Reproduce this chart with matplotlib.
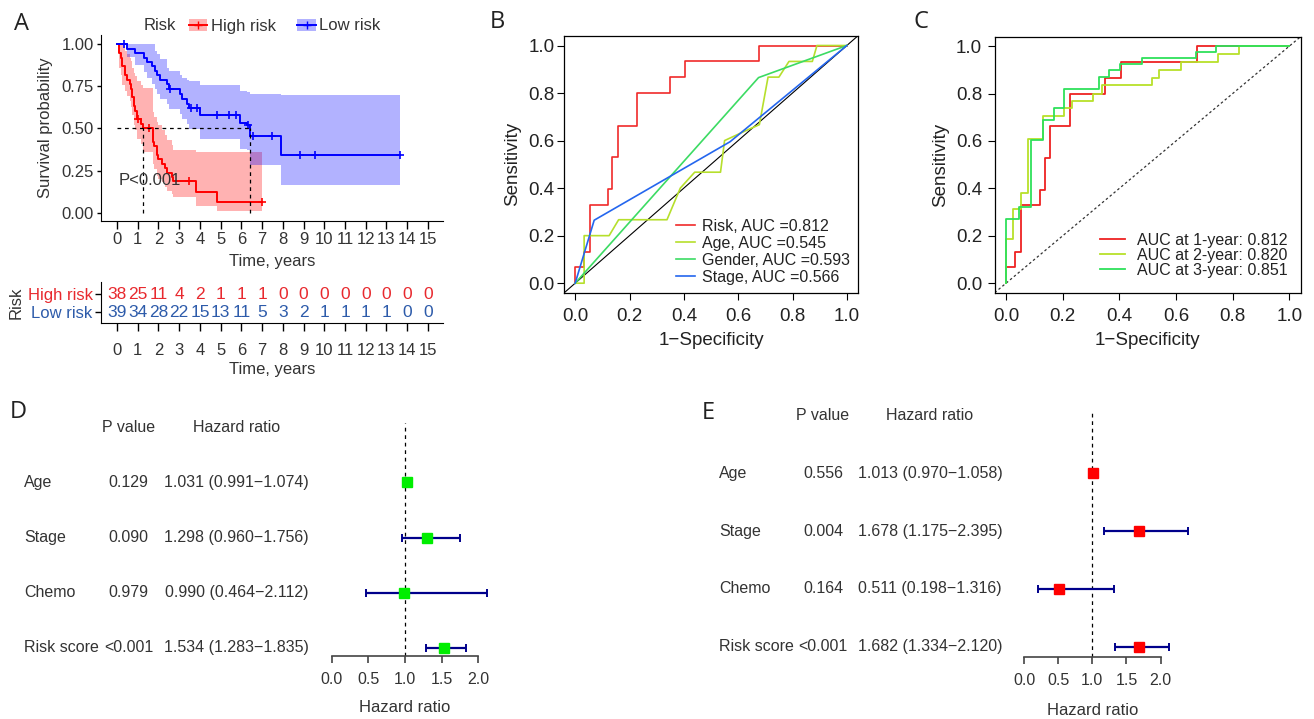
import numpy as np
import matplotlib
matplotlib.use("Agg")
import matplotlib.pyplot as plt
from matplotlib.lines import Line2D
from matplotlib.patches import Patch
from matplotlib.ticker import FormatStrFormatter
from matplotlib.transforms import blended_transform_factory

plt.rcParams["font.family"] = ["Liberation Sans", "DejaVu Sans"]

# ---- A: Kaplan-Meier (step times, survival, 95% CI) ----
red_t = [0, 0.12, 0.2, 0.25, 0.39, 0.5, 0.62, 0.66, 0.71, 0.8, 0.88, 0.95, 1.14, 1.24,
         1.72, 1.8, 1.91, 1.99, 2.15, 2.32, 2.4, 2.64, 2.72, 3.81, 4.81]
red_s = [1.0, 0.947, 0.921, 0.868, 0.816, 0.789, 0.763, 0.737, 0.684, 0.632, 0.605, 0.553,
         0.526, 0.50, 0.421, 0.395, 0.342, 0.316, 0.29, 0.263, 0.237, 0.21, 0.186, 0.124, 0.062]
red_lo = [1.0, 0.86, 0.82, 0.76, 0.72, 0.69, 0.66, 0.63, 0.58, 0.52, 0.49, 0.44, 0.41, 0.36,
          0.29, 0.26, 0.22, 0.20, 0.18, 0.15, 0.13, 0.11, 0.09, 0.04, 0.01]
red_hi = [1.0, 1.0, 1.0, 1.0, 0.96, 0.94, 0.92, 0.90, 0.86, 0.83, 0.81, 0.78, 0.76, 0.74,
          0.60, 0.57, 0.54, 0.52, 0.49, 0.46, 0.43, 0.40, 0.37, 0.36, 0.36]
red_end = 6.98
red_censor = [1.0, 1.56, 3.47, 6.98]

blue_t = [0, 0.48, 0.88, 1.29, 1.45, 1.69, 1.85, 1.95, 2.06, 2.41, 2.49, 3.05, 3.14, 3.38,
          3.46, 3.99, 5.92, 6.27, 6.40, 7.93]
blue_s = [1.0, 0.974, 0.947, 0.921, 0.895, 0.868, 0.842, 0.815, 0.789, 0.762, 0.735, 0.706,
          0.676, 0.648, 0.62, 0.578, 0.530, 0.52, 0.455, 0.341]
blue_lo = [1.0, 0.925, 0.875, 0.835, 0.80, 0.765, 0.735, 0.705, 0.675, 0.645, 0.615, 0.585,
           0.555, 0.525, 0.495, 0.44, 0.38, 0.37, 0.28, 0.165]
blue_hi = [1.0, 1.0, 1.0, 1.0, 1.0, 1.0, 0.96, 0.94, 0.91, 0.86, 0.84, 0.82, 0.80, 0.79,
           0.78, 0.76, 0.72, 0.715, 0.705, 0.70]
blue_end = 13.67
blue_censor = [0.35, 2.57, 3.55, 3.85, 4.82, 5.4, 5.76, 6.3, 6.56, 7.48, 8.84, 9.57, 13.67]

time_ticks = list(range(16))
high_at_risk = [38, 25, 11, 4, 2, 1, 1, 1, 0, 0, 0, 0, 0, 0, 0, 0]
low_at_risk = [39, 34, 28, 22, 15, 13, 11, 5, 3, 2, 1, 1, 1, 1, 0, 0]

# ---- B: ROC of risk score vs clinical variables ----
risk_fpr = [0, 0.033, 0.053, 0.12, 0.137, 0.157, 0.227, 0.35, 0.405, 0.675, 1.0]
risk_tpr = [0, 0.067, 0.133, 0.33, 0.395, 0.53, 0.663, 0.80, 0.867, 0.933, 1.0]
age_fpr = [0, 0.033, 0.033, 0.125, 0.16, 0.338, 0.387, 0.44, 0.535, 0.55, 0.625, 0.678,
           0.71, 0.75, 0.787, 0.873, 0.89, 1.0]
age_tpr = [0, 0, 0.2, 0.2, 0.267, 0.267, 0.4, 0.467, 0.467, 0.6, 0.64, 0.667,
           0.867, 0.867, 0.933, 0.933, 1.0, 1.0]
gender_fpr = [0, 0.675, 1.0]
gender_tpr = [0, 0.865, 1.0]
stage_fpr = [0, 0.07, 0.57, 1.0]
stage_tpr = [0, 0.265, 0.595, 1.0]
roc_labels = ["Risk, AUC =0.812", "Age, AUC =0.545", "Gender, AUC =0.593", "Stage, AUC =0.566"]

# ---- C: time-dependent ROC ----
y1_fpr = risk_fpr
y1_tpr = risk_tpr
y2_fpr = [0, 0.026, 0.052, 0.079, 0.129, 0.206, 0.232, 0.308, 0.338, 0.514, 0.541, 0.618,
          0.749, 0.824, 1.0]
y2_tpr = [0, 0.186, 0.314, 0.38, 0.61, 0.707, 0.74, 0.77, 0.80, 0.835, 0.867, 0.90,
          0.933, 0.967, 1.0]
y3_fpr = [0, 0.047, 0.087, 0.129, 0.169, 0.206, 0.328, 0.364, 0.402, 0.479, 0.669, 0.741, 1.0]
y3_tpr = [0, 0.273, 0.322, 0.606, 0.687, 0.74, 0.82, 0.872, 0.898, 0.925, 0.95, 0.975, 1.0]
time_labels = ["AUC at 1-year: 0.812", "AUC at 2-year: 0.820", "AUC at 3-year: 0.851"]

# ---- D/E: univariate and multivariate Cox ----
factors = ["Age", "Stage", "Chemo", "Risk score"]
uni_p = ["0.129", "0.090", "0.979", "<0.001"]
uni_hr = [1.031, 1.298, 0.990, 1.534]
uni_lo = [0.991, 0.960, 0.464, 1.283]
uni_hi = [1.074, 1.756, 2.112, 1.835]
multi_p = ["0.556", "0.004", "0.164", "<0.001"]
multi_hr = [1.013, 1.678, 0.511, 1.682]
multi_lo = [0.970, 1.175, 0.198, 1.334]
multi_hi = [1.058, 2.395, 1.316, 2.120]
hr_ticks = [0, 0.5, 1.0, 1.5, 2.0]

RED, BLUE = "#FF0000", "#0000FF"
TXT = "#333333"
W, H = 1314, 719
fig = plt.figure(figsize=(W / 100, H / 100), dpi=100)


def add_ax(left, top, right, bottom):
    return fig.add_axes([left / W, 1 - bottom / H, (right - left) / W, (bottom - top) / H])


def km(ax, t, s, lo, hi, end, censor, color):
    t = np.append(t, end)
    s, lo, hi = (np.append(v, v[-1]) for v in (s, lo, hi))
    ax.fill_between(t, lo, hi, step="post", color=color, alpha=0.3, lw=0)
    ax.step(t, s, where="post", color=color, lw=1.4)
    idx = np.searchsorted(t, censor, side="right") - 1
    ax.plot(censor, s[idx], "+", color=color, ms=6, mew=1.2)
    return t[np.argmax(s <= 0.5)]


# ================= A =================
ax = add_ax(101, 35, 443.5, 221)
med_r = km(ax, red_t, red_s, red_lo, red_hi, red_end, red_censor, RED)
med_b = km(ax, blue_t, blue_s, blue_lo, blue_hi, blue_end, blue_censor, BLUE)
dash = dict(color="k", lw=0.9, ls=(0, (3, 3)))
ax.plot([0, max(med_r, med_b)], [0.5, 0.5], **dash)
for m in (med_r, med_b):
    ax.plot([m, m], [0, 0.5], **dash)
ax.text(0.1, 0.19, "P<0.001", fontsize=12, color=TXT, va="center")
ax.set_xlim(-0.77, 15.75)
ax.set_ylim(-0.05, 1.055)
ax.set_xticks(time_ticks)
ax.set_yticks([0, 0.25, 0.5, 0.75, 1.0])
ax.yaxis.set_major_formatter(FormatStrFormatter("%.2f"))
for sp in ("top", "right"):
    ax.spines[sp].set_visible(False)
ax.tick_params(axis="x", length=6, width=1, pad=2, labelsize=12, labelcolor=TXT)
ax.tick_params(axis="y", length=3, width=1, pad=2, labelsize=12, labelcolor=TXT)
ax.set_xlabel("Time, years", fontsize=12, color=TXT, labelpad=5)
ax.set_ylabel("Survival probability", fontsize=12, color=TXT, labelpad=6)

handles = [(Patch(fc=RED, alpha=0.3, lw=0), Line2D([], [], color=RED, marker="+", lw=1.4)),
           (Patch(fc=BLUE, alpha=0.3, lw=0), Line2D([], [], color=BLUE, marker="+", lw=1.4))]
fig.text(144 / W, 1 - 26 / H, "Risk", fontsize=12, color=TXT, va="center")
fig.legend(handles, ["High risk", "Low risk"], loc="center left",
           bbox_to_anchor=(174 / W, 1 - 26 / H), ncol=2, frameon=False, fontsize=12,
           handlelength=1.1, handletextpad=0.2, columnspacing=1.3, labelcolor=TXT)

# risk table
axt = add_ax(101, 282, 443.5, 323.3)
for x, hv, lv in zip(time_ticks, high_at_risk, low_at_risk):
    axt.text(x, 2, str(hv), ha="center", va="center", fontsize=12.5, color="#E8292E")
    axt.text(x, 1, str(lv), ha="center", va="center", fontsize=12.5, color="#2D5BAA")
axt.set_xlim(-0.77, 15.75)
axt.set_ylim(0.39, 2.68)
axt.set_xticks(time_ticks)
axt.set_yticks([2, 1])
axt.set_yticklabels(["High risk", "Low risk"])
for lab, c in zip(axt.get_yticklabels(), ["#E8292E", "#2D5BAA"]):
    lab.set_color(c)
for sp in ("top", "right"):
    axt.spines[sp].set_visible(False)
axt.tick_params(axis="x", length=6, width=1, pad=8, labelsize=12, labelcolor=TXT)
axt.tick_params(axis="y", length=4, width=1, pad=2, labelsize=12)
axt.set_xlabel("Time, years", fontsize=12, color=TXT, labelpad=3)
axt.set_ylabel("Risk", fontsize=12, color=TXT, labelpad=3)


def roc_frame(ax, ypad):
    ax.set_xlim(-0.04, 1.04)
    ax.set_ylim(-0.04, 1.04)
    ticks = np.linspace(0, 1, 6)
    ax.set_xticks(ticks)
    ax.set_yticks(ticks)
    ax.xaxis.set_major_formatter(FormatStrFormatter("%.1f"))
    ax.yaxis.set_major_formatter(FormatStrFormatter("%.1f"))
    ax.tick_params(axis="x", length=5, width=0.8, pad=6, labelsize=13.5, labelcolor="#222")
    ax.tick_params(axis="y", length=5, width=0.8, pad=ypad, labelsize=13.5, labelcolor="#222")
    for sp in ax.spines.values():
        sp.set_linewidth(0.9)
    ax.set_xlabel("1\u2212Specificity", fontsize=13.5, color="#222", labelpad=5)
    ax.set_ylabel("Sensitivity", fontsize=13.5, color="#222", labelpad=5)


# ================= B =================
axb = add_ax(564.3, 36, 857.7, 292.7)
axb.axline((0, 0), (1, 1), color="k", lw=0.8)
axb.step(risk_fpr, risk_tpr, where="pre", color="#F02A2A", lw=1.2, label=roc_labels[0])
axb.plot(age_fpr, age_tpr, color="#B6DF2C", lw=1.2, label=roc_labels[1])
axb.plot(gender_fpr, gender_tpr, color="#3CDB63", lw=1.2, label=roc_labels[2])
axb.plot(stage_fpr, stage_tpr, color="#2466EE", lw=1.2, label=roc_labels[3])
roc_frame(axb, 2)
axb.legend(loc="lower right", bbox_to_anchor=(1, 0), frameon=False, fontsize=11.5,
           handlelength=1.2, handletextpad=0.4, labelspacing=0.12, borderaxespad=0.1,
           labelcolor="#222")

# ================= C =================
axc = add_ax(994.7, 36.7, 1300.6, 292.7)
axc.axline((0, 0), (1, 1), color="#333", lw=0.9, ls=(0, (2, 2)))
axc.step(y1_fpr, y1_tpr, where="pre", color="#EE2222", lw=1.3, label=time_labels[0])
axc.step(y2_fpr, y2_tpr, where="pre", color="#B8E02A", lw=1.3, label=time_labels[1])
axc.step(y3_fpr, y3_tpr, where="pre", color="#2EE05A", lw=1.3, label=time_labels[2])
roc_frame(axc, 4)
axc.legend(loc="lower right", bbox_to_anchor=(0.99, 0.02), frameon=False, fontsize=11.5,
           handlelength=1.6, handletextpad=0.75, labelspacing=0.0, borderaxespad=0.2,
           labelcolor="#222")


# ================= D / E =================
def forest(text_box, plot_box, xlim, ylim, pvals, hr, lo, hi, color, cols):
    axf = add_ax(*plot_box)
    axs = add_ax(*text_box)
    rows = np.arange(len(factors), 0, -1)
    for a in (axf, axs):
        a.set_ylim(*ylim)
    axs.axis("off")
    tr = blended_transform_factory(axs.transAxes, axs.transData)
    top = len(factors) + 1
    axs.text(cols[1], top, "P value", ha="center", va="center", fontsize=11.5, color=TXT, transform=tr)
    axs.text(cols[2], top, "Hazard ratio", ha="center", va="center", fontsize=11.5, color=TXT, transform=tr)
    for y, name, p, h, l, u in zip(rows, factors, pvals, hr, lo, hi):
        axs.text(cols[0], y, name, ha="left", va="center", fontsize=11.5, color=TXT, transform=tr)
        axs.text(cols[1], y, p, ha="center", va="center", fontsize=11.5, color=TXT, transform=tr)
        axs.text(cols[2], y, f"{h:.3f} ({l:.3f}\u2212{u:.3f})", ha="center", va="center",
                 fontsize=11.5, color=TXT, transform=tr)
    hr = np.array(hr)
    axf.axvline(1, color="k", lw=0.9, ls=(0, (3, 3)))
    axf.errorbar(hr, rows, xerr=[hr - np.array(lo), np.array(hi) - hr], fmt="none",
                 ecolor="#00008B", elinewidth=1.6, capsize=3, capthick=1.4)
    axf.plot(hr, rows, "s", color=color, ms=7.5, mec=color)
    axf.set_xlim(*xlim)
    for sp in ("top", "right", "left"):
        axf.spines[sp].set_visible(False)
    axf.spines["bottom"].set_bounds(hr_ticks[0], hr_ticks[-1])
    axf.spines["bottom"].set_color("#444")
    axf.spines["bottom"].set_linewidth(1.2)
    axf.set_yticks([])
    axf.set_xticks(hr_ticks)
    axf.xaxis.set_major_formatter(FormatStrFormatter("%.1f"))
    axf.tick_params(axis="x", length=5, width=1.2, color="#444", pad=7, labelsize=11.5,
                    labelcolor=TXT)
    axf.set_xlabel("Hazard ratio", fontsize=12, color=TXT, labelpad=7)
    axf.xaxis.set_label_coords((1 - xlim[0]) / (xlim[1] - xlim[0]), -0.19)


forest((0, 423, 320.7, 655.7), (320.7, 423, 496.7, 655.7), (-0.15, 2.25), (0.855, 5.08),
       uni_p, uni_hr, uni_lo, uni_hi, "#00EE00", (0.075, 0.4016, 0.7375))
forest((690, 411.7, 1010, 656.7), (1010, 411.7, 1200, 656.7), (-0.205, 2.577), (0.827, 5.066),
       multi_p, multi_hr, multi_lo, multi_hi, "#FF0000", (0.0916, 0.4156, 0.75))

# panel letters
for x, y, s in [(21, 24, "A"), (497, 22, "B"), (921, 22, "C"), (18, 412, "D"), (708, 413, "E")]:
    fig.text(x / W, 1 - y / H, s, fontsize=17, family=["Open Sans", "DejaVu Sans"],
             ha="center", va="center", color="#222")

fig.savefig("out.png", dpi=100)
